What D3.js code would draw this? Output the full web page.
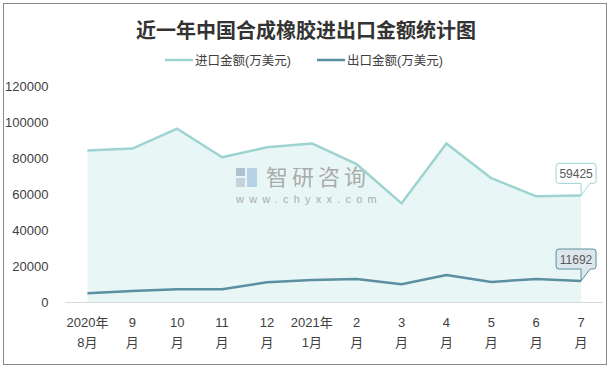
<!DOCTYPE html>
<html><head><meta charset="utf-8">
<script src="https://cdn.jsdelivr.net/npm/d3@7"></script>
<style>
html,body{margin:0;padding:0;background:#fff;}
svg{display:block;}
</style></head>
<body>
<script>
const categories = ["2020年|8月","9|月","10|月","11|月","12|月","2021年|1月","2|月","3|月","4|月","5|月","6|月","7|月"];
const importValues = [84500, 85500, 96600, 80700, 86200, 88400, 76800, 55000, 88400, 69000, 58900, 59425];
const exportValues = [4900, 6100, 7100, 7100, 11000, 12300, 12800, 9900, 15100, 11200, 12800, 11692];
const yTicks = [0, 20000, 40000, 60000, 80000, 100000, 120000];
const seriesNames = ["进口金额(万美元)", "出口金额(万美元)"];
const title = "近一年中国合成橡胶进出口金额统计图";

const W = 611, H = 369;
const impColor = "#9dd4d1", expColor = "#5b8fa1", fillColor = "#e9f6f6";
const svg = d3.select("body").append("svg").attr("width", W).attr("height", H);
const font = "'Liberation Sans','Noto Sans CJK SC',sans-serif";

svg.append("rect").attr("x", 3.5).attr("y", 3.5).attr("width", 603).attr("height", 361)
  .attr("fill", "#fff").attr("stroke", "#8a8a8a").attr("stroke-width", 1);

svg.append("text").attr("x", 306).attr("y", 38).attr("text-anchor", "middle")
  .attr("font-family", "'Noto Sans CJK SC',sans-serif").attr("font-weight", "bold")
  .attr("font-size", 20).attr("fill", "#333").text(title);

// legend
const legend = [{x: 165, c: impColor, t: seriesNames[0]}, {x: 317, c: expColor, t: seriesNames[1]}];
legend.forEach(l => {
  svg.append("line").attr("x1", l.x).attr("x2", l.x + 28).attr("y1", 60).attr("y2", 60)
    .attr("stroke", l.c).attr("stroke-width", 2.5);
  svg.append("text").attr("x", l.x + 30).attr("y", 64.5).attr("font-family", font)
    .attr("font-size", 12.5).attr("fill", "#404040").text(l.t);
});

const x = d3.scaleBand().domain(categories).range([65, 603.5]);
const y = d3.scaleLinear().domain([0, 120000]).range([302, 86.7]);
const cx = c => x(c) + x.bandwidth() / 2;

// y labels
svg.append("g").selectAll("text").data(yTicks).join("text")
  .attr("x", 48.5).attr("y", d => y(d) + 4.5).attr("text-anchor", "end")
  .attr("font-family", font).attr("font-size", 13).attr("fill", "#404040")
  .text(d => d);

// area
const area = d3.area().x((d, i) => cx(categories[i])).y0(y(0)).y1(d => y(d));
svg.append("path").datum(importValues).attr("d", area).attr("fill", fillColor);

// watermark
const wm = svg.append("g").attr("opacity", 0.8);
wm.append("rect").attr("x", 236).attr("y", 168).attr("width", 9).attr("height", 8).attr("fill", "#a3b4c6");
wm.append("rect").attr("x", 236).attr("y", 178).attr("width", 9).attr("height", 9).attr("fill", "#bccbd9");
wm.append("rect").attr("x", 247).attr("y", 168).attr("width", 10).attr("height", 19).attr("fill", "#aacae3");
wm.append("text").attr("x", 266).attr("y", 185).attr("font-family", "'Noto Sans CJK SC',sans-serif")
  .attr("font-size", 22).attr("fill", "#9a9a9a").attr("letter-spacing", 4).text("智研咨询");
wm.append("text").attr("x", 236).attr("y", 203).attr("font-family", font)
  .attr("font-size", 11).attr("fill", "#9a9a9a").attr("letter-spacing", 5.2).text("www.chyxx.com");

// baseline
svg.append("line").attr("x1", 65).attr("x2", 603).attr("y1", y(0) + 0.5).attr("y2", y(0) + 0.5)
  .attr("stroke", "#d9d9d9").attr("stroke-width", 1);

const line = d3.line().x((d, i) => cx(categories[i])).y(d => y(d));
svg.append("path").datum(importValues).attr("d", line).attr("fill", "none")
  .attr("stroke", impColor).attr("stroke-width", 2.5).attr("stroke-linejoin", "round");
svg.append("path").datum(exportValues).attr("d", line).attr("fill", "none")
  .attr("stroke", expColor).attr("stroke-width", 2.5).attr("stroke-linejoin", "round");

// x labels
const xl = svg.append("g");
categories.forEach(c => {
  const parts = c.split("|");
  parts.forEach((p, k) => {
    xl.append("text").attr("x", cx(c)).attr("y", 327 + k * 20).attr("text-anchor", "middle")
      .attr("font-family", font).attr("font-size", 13).attr("fill", "#404040").text(p);
  });
});

// callouts
function callout(val, stroke, fill) {
  const last = categories[categories.length - 1];
  const px = cx(last), py = y(val);
  const bx = px - 25, bw = 40, bh = 20, by = py - 32;
  const g = svg.append("g");
  const path = `M${bx + 3},${by} H${bx + bw - 3} Q${bx + bw},${by} ${bx + bw},${by + 3} V${by + bh - 3} Q${bx + bw},${by + bh} ${bx + bw - 3},${by + bh} H${px + 9} L${px},${py} L${px},${by + bh} H${bx + 3} Q${bx},${by + bh} ${bx},${by + bh - 3} V${by + 3} Q${bx},${by} ${bx + 3},${by} Z`;
  g.append("path").attr("d", path).attr("fill", fill).attr("stroke", stroke).attr("stroke-width", 1);
  g.append("text").attr("x", bx + bw / 2).attr("y", by + 14.5).attr("text-anchor", "middle")
    .attr("font-family", font).attr("font-size", 12).attr("fill", "#595959").text(val);
}
callout(importValues[importValues.length - 1], impColor, "#ffffff");
callout(exportValues[exportValues.length - 1], expColor, "#dde6ec");
</script>
</body></html>
